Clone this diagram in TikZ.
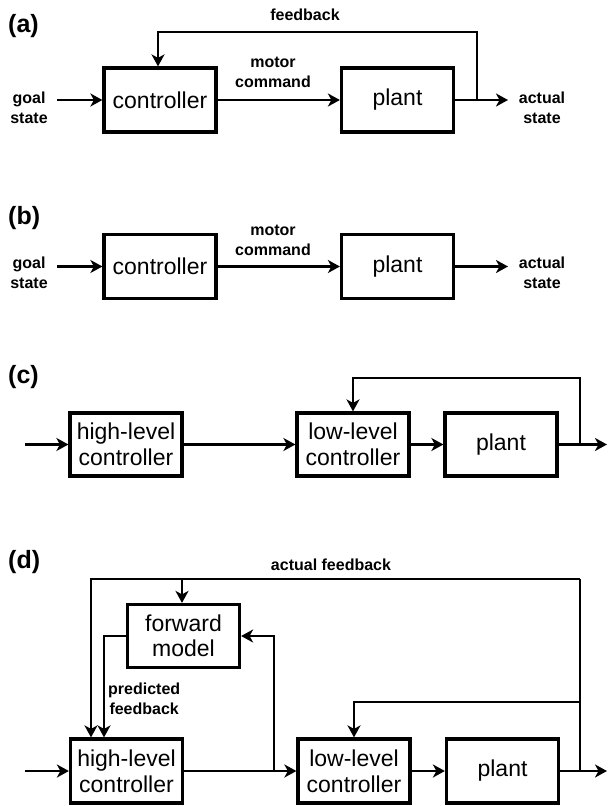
\documentclass[tikz,border=0pt]{standalone}
\usepackage{fontspec}
\setmainfont{Liberation Sans}
\usetikzlibrary{arrows.meta}
\tikzset{
  box/.style={draw, line width=3.2pt, inner sep=0pt, align=center,
    minimum width=112pt, minimum height=64pt, font=\fontsize{23}{26}\selectfont},
  arr/.style={line width=2.8pt, -{Stealth[length=12pt,width=13pt,inset=3.5pt]}},
  ln/.style={line width=2.8pt},
  lbl/.style={inner sep=0pt, align=center, font=\bfseries\fontsize{16}{20}\selectfont},
  panel/.style={inner sep=0pt, anchor=west, font=\bfseries\fontsize{25}{25}\selectfont}
}
\begin{document}
\begin{tikzpicture}[x=1pt,y=-1pt]
\useasboundingbox (0,0) rectangle (608,806);

% ---------------- (a)
\node[panel] (la) at (8,26) {(a)};
\node[box] (ctrlA) at (160,100) {controller};
\node[box] (plantA) at (397.5,100) {plant};
\node[lbl] (goalA) at (29,108) {goal\\state};
\node[lbl] (actA) at (542,108) {actual\\state};
\node[lbl] (motA) at (273,72.5) {motor\\command};
\node[lbl] (fbtA) at (305,15) {feedback};
\coordinate (inA) at (57,100);
\coordinate (outA) at (508,100);
\coordinate (fbA) at (477,100);
\coordinate (fbAtop) at (477,32);
\coordinate (fbAleft) at (158,32);
\draw[arr] (inA) -- (ctrlA.west);
\draw[arr] (ctrlA.east) -- (plantA.west);
\draw[arr] (plantA.east) -- (outA);
\draw[arr] (fbA) -- (fbAtop) -- (fbAleft) -- (fbAleft |- ctrlA.north);

% ---------------- (b)
\node[panel] (lb) at (8,218) {(b)};
\node[box] (ctrlB) at (160,266.5) {controller};
\node[box] (plantB) at (397.5,266.5) {plant};
\node[lbl] (goalB) at (29,273) {goal\\state};
\node[lbl] (actB) at (542,273) {actual\\state};
\node[lbl] (motB) at (273,240.5) {motor\\command};
\coordinate (inB) at (57,266.5);
\coordinate (outB) at (508,266.5);
\draw[arr] (inB) -- (ctrlB.west);
\draw[arr] (ctrlB.east) -- (plantB.west);
\draw[arr] (plantB.east) -- (outB);

% ---------------- (c)
\node[panel] (lc) at (8,377) {(c)};
\node[box, minimum height=63pt] (hlC) at (126,444.5) {high-level\\controller};
\node[box, minimum height=63pt] (llC) at (353,444.5) {low-level\\controller};
\node[box, minimum height=63pt] (plantC) at (501,444.5) {plant};
\coordinate (inC) at (25,444.5);
\coordinate (outC) at (607,444.5);
\coordinate (fbC) at (580,444.5);
\coordinate (fbCtop) at (580,378);
\draw[arr] (inC) -- (hlC.west);
\draw[arr] (hlC.east) -- (llC.west);
\draw[arr] (llC.east) -- (plantC.west);
\draw[arr] (plantC.east) -- (outC);
\draw[arr] (fbC) -- (fbCtop) -- (fbCtop -| llC.north) -- (llC.north);

% ---------------- (d)
\node[panel] (ld) at (8,562) {(d)};
\node[lbl] (afb) at (331,565) {actual feedback};
\node[box, minimum height=63pt, font=\fontsize{23}{25}\selectfont] (fm) at (183.5,636) {forward\\model};
\node[box] (hlD) at (126.5,771) {high-level\\controller};
\node[box] (llD) at (354,771) {low-level\\controller};
\node[box] (plantD) at (502.5,771) {plant};
\node[lbl, anchor=west] (pfb) at (108,698.5) {predicted\\feedback};
\coordinate (inD) at (25,771);
\coordinate (outD) at (607,771);
\coordinate (fbD) at (580,771);
\coordinate (fbDmid) at (580,702);
\coordinate (fbDtop) at (580,579);
\coordinate (fbDleft) at (91,579);
\coordinate (fmIn) at (182,579);
\coordinate (pfL) at (104,636);
\coordinate (br) at (274,771);
\coordinate (brTop) at (274,636);
\draw[arr] (inD) -- (hlD.west);
\draw[arr] (hlD.east) -- (llD.west);
\draw[arr] (llD.east) -- (plantD.west);
\draw[arr] (plantD.east) -- (outD);
\draw[ln] (fbD) -- (fbDtop);
\draw[arr] (fbDtop) -- (fbDleft) -- (fbDleft |- hlD.north);
\draw[arr] (fmIn) -- (fmIn |- fm.north);
\draw[arr] (fm.west) -- (pfL) -- (pfL |- hlD.north);
\draw[arr] (br) -- (brTop) -- (fm.east);
\draw[arr] (fbDmid) -- (fbDmid -| llD.north) -- (llD.north);
\end{tikzpicture}
\end{document}
